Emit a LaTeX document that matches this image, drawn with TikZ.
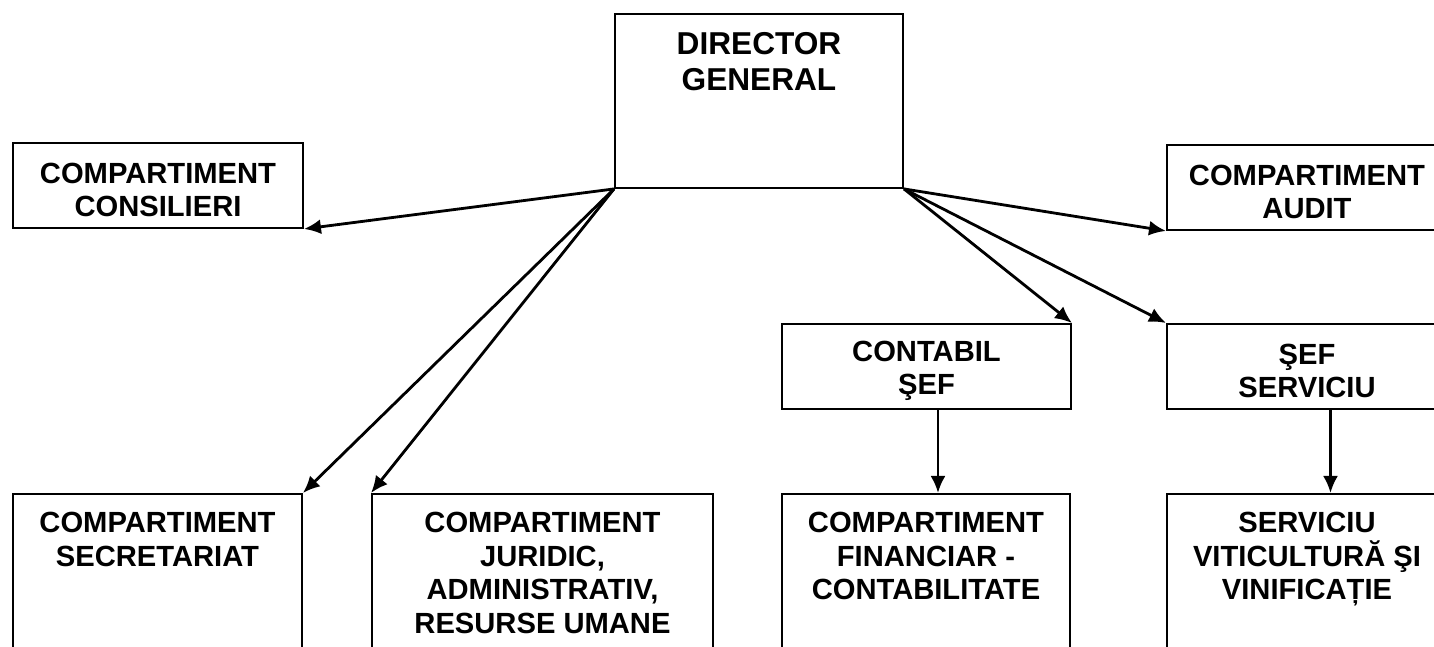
\documentclass[tikz,border=0pt]{standalone}
\usepackage{fontspec}
\setmainfont{Liberation Sans}
\usetikzlibrary{arrows.meta}
\newcommand{\boxfont}{\bfseries\fontsize{16.6}{19.1}\selectfont}
\newcommand{\chieffont}{\bfseries\fontsize{18}{20.5}\selectfont}

\begin{document}
\begin{tikzpicture}
[auto,
block_normal/.style ={rectangle, draw, line width=1.1pt, fill=white, minimum height=1.7cm, inner sep=0pt},
block_tall/.style ={rectangle, draw, line width=1.1pt, fill=white, minimum height=3.74cm, inner sep=0pt, anchor=north},
block_mid/.style ={anchor=center, align=center, inner sep=0pt, yshift=-0.09cm, font=\boxfont},
block_text/.style ={anchor=north, align=center, inner sep=0pt, yshift=-0.38cm, font=\boxfont},
line_inner/.style ={draw, -{Latex[length=0.34cm, width=0.3cm]}, line width=1.6pt, shorten >=0pt, shorten <=0pt}
]

\path[use as bounding box, clip] (0,0) rectangle (28.68,12.94);

% row 1
\node [block_tall, minimum width=5.76cm, minimum height=3.48cm, label={[block_text, font=\chieffont]north:{DIRECTOR\\GENERAL}}] (13) at (15.18,12.68) {};
% row 2
\node [block_normal, minimum width=5.8cm, label={[block_mid]center:{COMPARTIMENT\\CONSILIERI}}] (21) at (3.16,9.23) {};
\node [block_normal, minimum width=5.6cm, label={[block_mid]center:{COMPARTIMENT\\AUDIT}}] (25) at (26.14,9.19) {};
% row 3
\node [block_normal, minimum width=5.78cm, label={[block_mid]center:{CONTABIL\\ŞEF}}] (34) at (18.53,5.61) {};
\node [block_normal, minimum width=5.6cm, label={[block_mid]center:{ŞEF\\SERVICIU}}] (35) at (26.14,5.61) {};
% row 4
\node [block_tall, minimum width=5.78cm, label={[block_text]north:{COMPARTIMENT\\SECRETARIAT}}] (41) at (3.15,3.08) {};
\node [block_tall, minimum width=6.82cm, label={[block_text]north:{COMPARTIMENT\\JURIDIC,\\ADMINISTRATIV,\\RESURSE UMANE}}] (42) at (10.85,3.08) {};
\node [block_tall, minimum width=5.76cm, label={[block_text]north:{COMPARTIMENT\\FINANCIAR -\\CONTABILITATE}}] (44) at (18.52,3.08) {};
\node [block_tall, minimum width=5.6cm, label={[block_text]north:{SERVICIU\\VITICULTURĂ ŞI\\VINIFICAȚIE}}] (45) at (26.14,3.08) {};

%%Pfeile%%%
\draw[line_inner] (13.south west) -- (21.south east);
\draw[line_inner] (13.south west) -- (41.north east);
\draw[line_inner] (13.south west) -- (42.north west);
\draw[line_inner] (13.south east) -- (25.south west);
\draw[line_inner] (13.south east) -- (34.north east);
\draw[line_inner] (13.south east) -- (35.north west);
\draw[line_inner] ([xshift=0.23cm]34.south) -- ([xshift=0.23cm]34.south |- 44.north);
\draw[line_inner] ([xshift=0.47cm]35.south) -- ([xshift=0.47cm]35.south |- 45.north);

\end{tikzpicture}
\end{document}
